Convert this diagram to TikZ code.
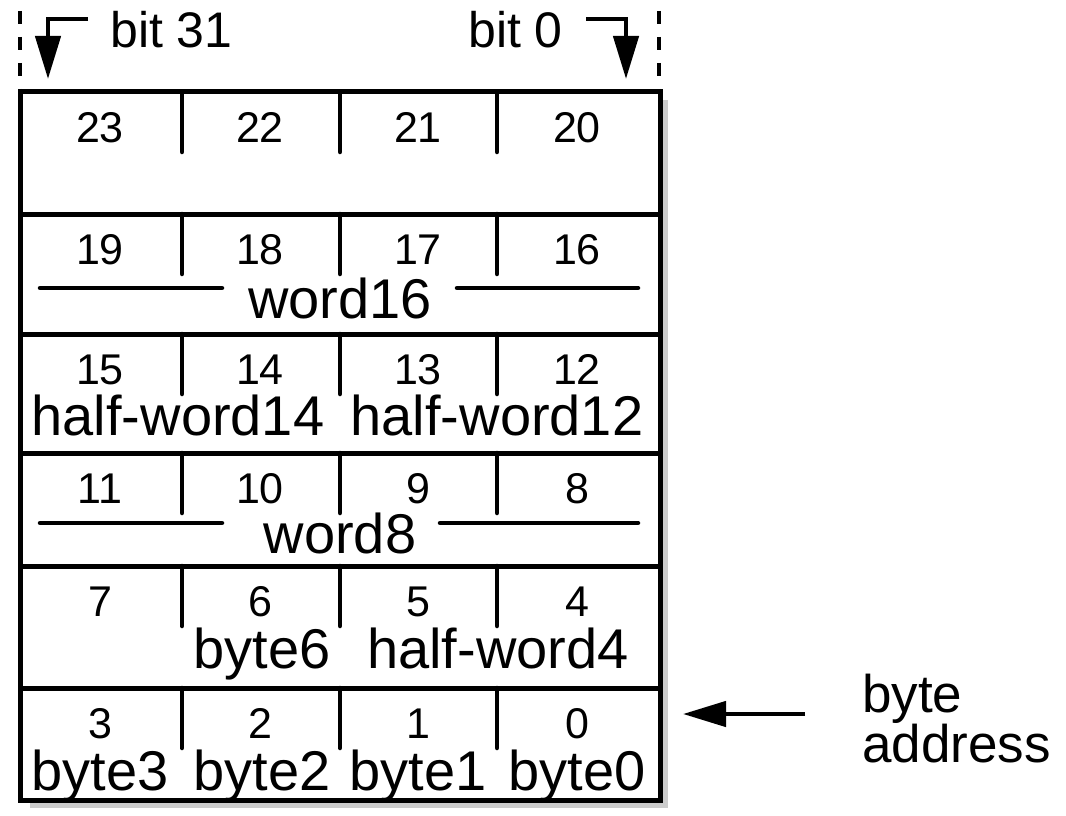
\documentclass[tikz,border=0pt]{standalone}
\usepackage{fontspec}
\setmainfont{Liberation Sans}
\usetikzlibrary{arrows.meta,positioning}

\begin{document}
\begin{tikzpicture}[x=1pt, y=-1pt,
        frame/.style={line width=5pt},
        tick/.style={line width=4.5pt, line cap=round},
        guide/.style={line width=4.5pt, dash pattern=on 13pt off 13pt},
        num/.style={font=\fontsize{43}{43}\selectfont, anchor=base, inner sep=0pt},
        lbl/.style={font=\fontsize{56}{56}\selectfont, anchor=base, inner sep=0pt},
        bitlbl/.style={font=\fontsize{50}{50}\selectfont, inner sep=0pt},
        ptr/.style={line width=4.5pt, -{Triangle[length=43pt,width=25pt]}}]
        \useasboundingbox (0,0) rectangle (1066,816);

        % shadow and memory block
        \fill[gray!40] (30,100) rectangle (668,808);
        \fill[white] (20,92) rectangle (660,800);
        \foreach \t in {214,334,453,566,688}
            \draw[frame] (20,\t) -- (660,\t);
        \draw[frame] (20,92) rectangle (660,800);
        \foreach \t in {92,214,334,453,566,688}
            \foreach \x in {182,340,497}
                \draw[tick] (\x,\t) -- (\x,\t+60);

        % byte numbers
        \foreach \t [count=\r from 0] in {688,566,453,334,214,92}
            \foreach \cx [count=\c from 0] in {577,418,260,100} {
                \pgfmathtruncatemacro\n{4*\r+\c}
                \node[num] (n\n) at (\cx,\t+50) {\n};
            }

        % data items
        \node[lbl] (word16) at (340,318) {word16};
        \draw[tick] (40,288) -- (222,288);
        \draw[tick] (457,288) -- (638,288);
        \node[lbl] (half14) at (178,435) {half-word14};
        \node[lbl] (half12) at (497,435) {half-word12};
        \node[lbl] (word8) at (340,553) {word8};
        \draw[tick] (40,523) -- (222,523);
        \draw[tick] (440,523) -- (638,523);
        \node[lbl] (byte6) at (262,668) {byte6};
        \node[lbl] (half4) at (498,668) {half-word4};
        \node[lbl] (byte3) at (100,790) {byte3};
        \node[lbl] (byte2) at (262,790) {byte2};
        \node[lbl] (byte1) at (418,790) {byte1};
        \node[lbl] (byte0) at (577,790) {byte0};

        % bit numbering
        \draw[guide] (20,11) -- (20,92);
        \draw[guide] (659,11) -- (659,92);
        \node[bitlbl, anchor=base west] (bit31) at (110,48) {bit 31};
        \node[bitlbl, anchor=base east] (bit0) at (563,48) {bit 0};
        \coordinate (from31) at (88,19);
        \coordinate (tip31) at (48,79);
        \coordinate (from0) at (586,19);
        \coordinate (tip0) at (626,79);
        \draw[ptr] (from31) -| (tip31);
        \draw[ptr] (from0) -| (tip0);

        % byte address
        \node[lbl, font=\fontsize{53}{53}\selectfont, anchor=base west] (addr1) at (862,712) {byte};
        \node[lbl, font=\fontsize{53}{53}\selectfont, anchor=base west] (addr2) at (862,762) {address};
        \coordinate (addrtail) at (805,714);
        \coordinate (addrtip) at (683,714);
        \draw[ptr] (addrtail) -- (addrtip);
    \end{tikzpicture}
\end{document}
